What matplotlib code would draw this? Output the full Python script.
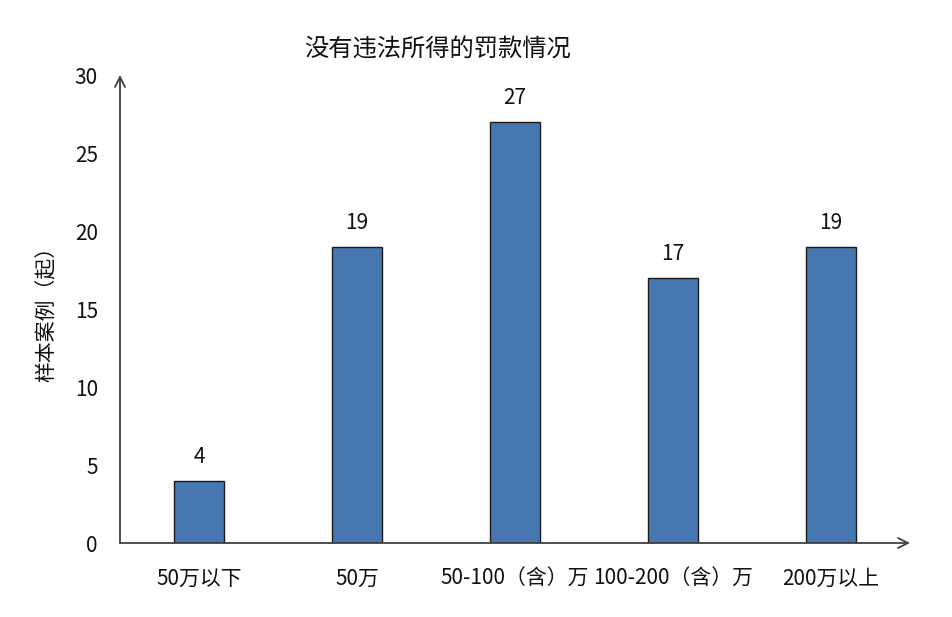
import matplotlib
matplotlib.use("Agg")
import matplotlib.pyplot as plt

plt.rcParams['font.family'] = ['Noto Sans CJK SC', 'DejaVu Sans']

categories = ["50万以下", "50万", "50-100（含）万", "100-200（含）万", "200万以上"]
values = [4, 19, 27, 17, 19]
yticks = [0, 5, 10, 15, 20, 25, 30]
title = "没有违法所得的罚款情况"
ylabel = "样本案例（起）"

FS = 15

fig = plt.figure(figsize=(9.52, 6.17), dpi=100)
ax = fig.add_axes([120/952, 1-543/617, 790/952, 468/617])

x = list(range(len(categories)))
ax.bar(x, values, width=0.316, color="#4677b0", edgecolor="#1a1a1a", linewidth=1.0, zorder=3)
for xi, v in zip(x, values):
    ax.annotate(str(v), (xi, v), xytext=(0, 17), textcoords="offset points",
                ha="center", va="center", fontsize=FS, color="#111111")

ax.set_xlim(-0.5, 4.5)
ax.set_ylim(0, 30)
ax.set_xticks(x)
ax.set_xticklabels(categories, fontsize=FS, color="#111111")
ax.set_yticks(yticks)
ax.set_yticklabels([str(t) for t in yticks], fontsize=FS, color="#111111")
ax.tick_params(axis="x", length=0, pad=18)
ax.tick_params(axis="y", length=0, pad=16)
for s in ax.spines.values():
    s.set_visible(False)

# axes with arrows
ax.annotate("", xy=(0, 1.0), xytext=(0, 0), xycoords="axes fraction",
            arrowprops=dict(arrowstyle="->", color="#404040", lw=1.3, mutation_scale=18,
                            shrinkA=0, shrinkB=0))
ax.annotate("", xy=(1.0, 0), xytext=(0, 0), xycoords="axes fraction",
            arrowprops=dict(arrowstyle="->", color="#404040", lw=1.3, mutation_scale=18,
                            shrinkA=0, shrinkB=0))

ax.set_ylabel(ylabel, fontsize=FS, color="#111111", labelpad=12)
fig.text(437/952, 1-50/617, title, ha="center", va="center", fontsize=17.5, color="#111111")

fig.savefig("out.png", dpi=100)
